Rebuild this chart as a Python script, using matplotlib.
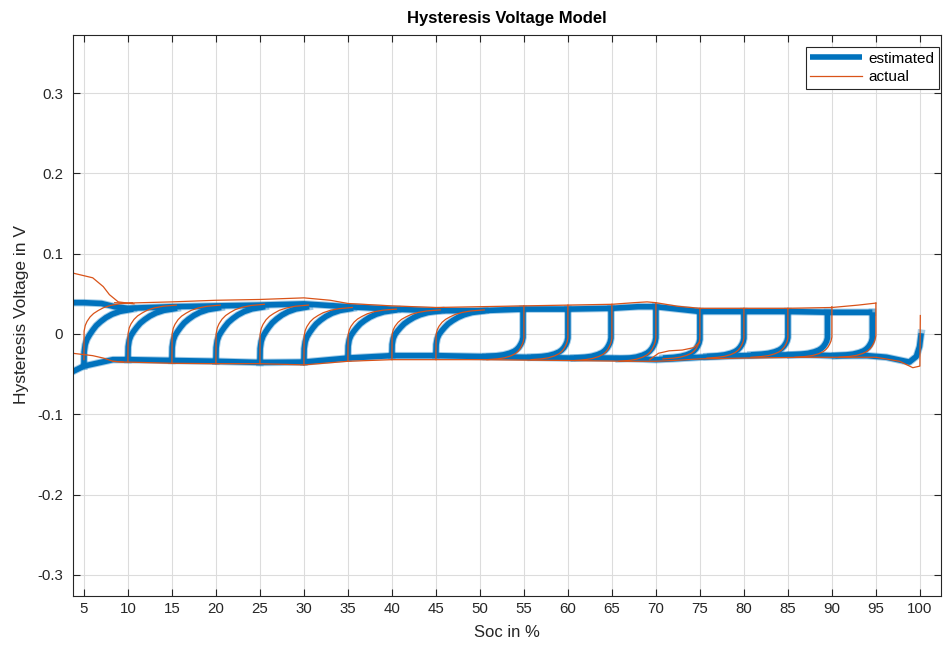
import numpy as np
import matplotlib
matplotlib.use("Agg")
from matplotlib import pyplot as plt

plt.rcParams['font.family'] = ['Liberation Sans', 'DejaVu Sans']

# ---- estimated (model) hysteresis voltage ----
est_top_soc = [3.7, 5, 7, 8.5, 10, 15, 20, 25, 30, 35, 40, 45, 50, 55, 60, 65, 68, 70, 72.5, 75, 80, 85, 90, 94.6]
est_top_v = [0.039, 0.039, 0.038, 0.034, 0.032, 0.034, 0.035, 0.036, 0.0375, 0.034, 0.031, 0.029, 0.029,
             0.031, 0.031, 0.032, 0.034, 0.034, 0.031, 0.028, 0.028, 0.028, 0.027, 0.027]
est_bot_soc = [100.15, 99.96, 99.6, 98.8, 96.2, 94, 90, 87.5, 85, 80, 75, 72, 70, 67.5, 65, 60, 55, 50,
               45, 40, 35, 30, 25, 20, 15, 10, 8.3, 5, 3.7]
est_bot_v = [0.001, -0.0156, -0.028, -0.035, -0.029, -0.027, -0.027, -0.026, -0.026, -0.027, -0.029, -0.031,
             -0.032, -0.031, -0.030, -0.030, -0.029, -0.028, -0.027, -0.027, -0.030, -0.035, -0.0355, -0.034,
             -0.033, -0.032, -0.032, -0.040, -0.047]

charge_soc = [5, 10, 15, 20, 25, 30, 35, 40, 45]
est_charge_low = [-0.040, -0.032, -0.033, -0.034, -0.0355, -0.035, -0.030, -0.027, -0.027]
est_charge_high = [0.031, 0.032, 0.033, 0.034, 0.034, 0.032, 0.030, 0.029, 0.029]

est_dis_soc = [54.9, 60.0, 64.9, 70.0, 75.0, 80.0, 85.0, 89.5, 94.6]
est_dis_high = [0.031, 0.031, 0.032, 0.034, 0.028, 0.028, 0.028, 0.027, 0.027]
est_dis_low = [-0.028, -0.029, -0.030, -0.031, -0.030, -0.028, -0.026, -0.026, -0.027]

# relaxation shapes: soc offset and fraction of the jump
est_charge_dsoc = [0, 0.03, 0.15, 0.35, 0.65, 1.0, 1.4, 1.9, 2.5, 3.2, 4.1, 5.6]
est_charge_frac = [0, 0.25, 0.38, 0.47, 0.55, 0.63, 0.71, 0.78, 0.85, 0.91, 0.96, 1.0]
dis_dsoc = [0, 0, -0.1, -0.25, -0.45, -0.7, -1.0, -1.5, -2.2, -3.0, -4.2]
dis_frac = [1, 0.4, 0.32, 0.26, 0.2, 0.15, 0.11, 0.07, 0.035, 0.015, 0]

# ---- actual (measured) hysteresis voltage ----
act_top_soc = [8.5, 10, 15, 20, 25, 30, 33, 35, 40, 45, 50, 55, 60, 65, 67.5, 69, 70, 72.5, 75, 80, 85,
               90, 93, 95]
act_top_v = [0.039, 0.0385, 0.040, 0.042, 0.043, 0.045, 0.042, 0.038, 0.035, 0.033, 0.034, 0.035, 0.036,
             0.037, 0.039, 0.040, 0.039, 0.0345, 0.032, 0.032, 0.032, 0.033, 0.036, 0.0385]
act_bot_soc = [100.05, 100, 99.2, 97.7, 95, 90, 87, 80, 75, 72, 70, 67, 60, 50, 45, 40, 35, 30, 25, 20,
               15, 10, 9.5, 8.3]
act_bot_v = [0.023, -0.040, -0.042, -0.034, -0.029, -0.029, -0.029, -0.030, -0.031, -0.033, -0.034, -0.034,
             -0.033, -0.032, -0.032, -0.032, -0.034, -0.0385, -0.037, -0.037, -0.0365, -0.035, -0.035, -0.034]
act_spike_soc = [3.7, 6.0, 7.2, 7.9, 8.9, 10.7]
act_spike_v = [0.076, 0.070, 0.059, 0.049, 0.040, 0.0375]
act_tail_soc = [3.7, 6.0, 7.2, 8.3, 9.5]
act_tail_v = [-0.024, -0.027, -0.030, -0.034, -0.035]
act_hump_soc = [69.3, 70.3, 71.5, 73.0, 74.3, 75.0]
act_hump_v = [-0.032, -0.024, -0.021, -0.020, -0.017, -0.010]

act_charge_low = [-0.032, -0.035, -0.0365, -0.037, -0.037, -0.0385, -0.034, -0.032, -0.032]
act_charge_high = [0.039, 0.036, 0.036, 0.037, 0.036, 0.033, 0.031, 0.030, 0.030]
act_charge_dsoc = [0, 0.02, 0.15, 0.35, 0.7, 1.1, 1.6, 2.2, 3.0, 4.0, 5.5]
act_charge_frac = [0, 0.5, 0.6, 0.67, 0.75, 0.81, 0.86, 0.91, 0.95, 0.98, 1.0]

act_dis_soc = [55, 60, 65, 70, 75, 80, 85, 90, 95]
act_dis_high = [0.035, 0.036, 0.037, 0.039, 0.032, 0.032, 0.032, 0.034, 0.0385]
act_dis_low = [-0.032, -0.032, -0.033, -0.034, -0.031, -0.030, -0.029, -0.029, -0.029]

BLUE = '#0072BD'
ORANGE = '#D95319'
TXT = '#262626'


def relax(s, lo, hi, dsoc, frac):
    x = s + np.asarray(dsoc, dtype=float)
    y = lo + np.asarray(frac, dtype=float) * (hi - lo)
    return x, y


fig = plt.figure(figsize=(9.45, 6.51), dpi=100)
ax = fig.add_axes([73 / 945, 55.5 / 651, 868 / 945, 561 / 651])

halo_kw = dict(color=BLUE, lw=5.4, alpha=0.35, solid_joinstyle='round')
est_kw = dict(color=BLUE, lw=4.0, solid_capstyle='butt', solid_joinstyle='round')
act_kw = dict(color=ORANGE, lw=0.9)

est_curves = [(est_bot_soc, est_bot_v), (est_top_soc, est_top_v)]
for s, lo, hi in zip(charge_soc, est_charge_low, est_charge_high):
    est_curves.append(relax(s, lo, hi, est_charge_dsoc, est_charge_frac))
for s, lo, hi in zip(est_dis_soc, est_dis_low, est_dis_high):
    est_curves.append(relax(s, lo, hi, dis_dsoc, dis_frac))
for x, y in est_curves:
    ax.plot(x, y, **halo_kw)
for i, (x, y) in enumerate(est_curves):
    ax.plot(x, y, label='estimated' if i == 0 else None, **est_kw)

ax.plot(act_bot_soc, act_bot_v, label='actual', **act_kw)
ax.plot(act_top_soc, act_top_v, **act_kw)
ax.plot(act_spike_soc, act_spike_v, **act_kw)
ax.plot(act_tail_soc, act_tail_v, **act_kw)
ax.plot(act_hump_soc, act_hump_v, **act_kw)
for s, lo, hi in zip(charge_soc, act_charge_low, act_charge_high):
    ax.plot(*relax(s, lo, hi, act_charge_dsoc, act_charge_frac), **act_kw)
for s, lo, hi in zip(act_dis_soc, act_dis_low, act_dis_high):
    ax.plot(*relax(s, lo, hi, dis_dsoc, dis_frac), **act_kw)

ax.set_xlim(3.76, 102.4)
ax.set_ylim(-0.3258, 0.3731)
ax.set_xticks(range(5, 101, 5))
ax.set_yticks([-0.3, -0.2, -0.1, 0, 0.1, 0.2, 0.3])
ax.set_yticklabels(['-0.3', '-0.2', '-0.1', '0', '0.1', '0.2', '0.3'])
ax.grid(True, color='#dcdcdc', lw=0.8)
ax.set_axisbelow(True)
ax.tick_params(direction='in', top=True, right=True, length=5, width=0.8,
               colors=TXT, labelsize=10.8, pad=7)
ax.tick_params(axis='x', pad=5)
for sp in ax.spines.values():
    sp.set_color(TXT)
    sp.set_linewidth(0.8)

ax.set_title('Hysteresis Voltage Model', fontsize=12, fontweight='bold', color='black', pad=8)
ax.set_xlabel('Soc in %', fontsize=12, color=TXT, labelpad=6)
ax.set_ylabel('Hysteresis Voltage in V', fontsize=12.5, color=TXT, labelpad=6)

leg = ax.legend(loc='upper right', bbox_to_anchor=(939 / 945, 1 - 47 / 651),
                bbox_transform=fig.transFigure, fontsize=11, frameon=True, fancybox=False,
                edgecolor=TXT, framealpha=1, borderaxespad=0, handlelength=3.4,
                borderpad=0.3, labelspacing=0.3, handletextpad=0.4)
leg.get_frame().set_linewidth(0.8)
leg.get_lines()[0].set_linewidth(4)
leg.get_lines()[0].set_alpha(1)

fig.savefig('out.png', dpi=100)
